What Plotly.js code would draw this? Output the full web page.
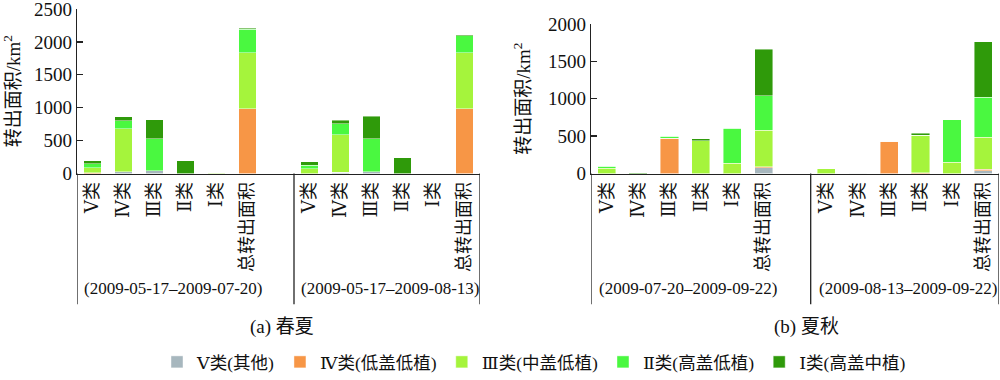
<!DOCTYPE html>
<html>
<head>
<meta charset="utf-8">
<script src="https://cdn.plot.ly/plotly-3.0.1.min.js"></script>
<style>html,body{margin:0;padding:0;background:#fff;}#chart{width:1000px;height:380px;}</style>
</head>
<body>
<div id="chart"></div>
<script>
// ---------- data ----------
const categories = ['Ⅴ类', 'Ⅳ类', 'Ⅲ类', 'Ⅱ类', 'Ⅰ类', '总转出面积'];
const periodsA = ['(2009-05-17–2009-07-20)', '(2009-05-17–2009-08-13)'];
const periodsB = ['(2009-07-20–2009-09-22)', '(2009-08-13–2009-09-22)'];
const classNames = ['Ⅴ类(其他)', 'Ⅳ类(低盖低植)', 'Ⅲ类(中盖低植)', 'Ⅱ类(高盖低植)', 'Ⅰ类(高盖中植)'];
const panelCaptions = ['(a) 春夏', '(b) 夏秋'];
const yTitle = '转出面积/km<sup>2</sup>';

// (a) spring-summer: 6 categories of period 1, then 6 of period 2
const springV   = [0, 30, 40, 0, 0, 0,      0, 20, 30, 0, 0, 0];
const springIV  = [15, 0, 0, 0, 0, 985,     0, 0, 0, 0, 0, 985];
const springIII = [76, 647, 0, 0, 5, 853,   71, 566, 0, 0, 0, 848];
const springII  = [55, 126, 485, 0, 5, 354, 55, 172, 500, 0, 0, 257];
const springI   = [46, 61, 293, 192, 0, 15, 56, 55, 344, 237, 0, 21];

// (b) summer-autumn
const autumnV   = [0, 0, 0, 0, 0, 75,       0, 3, 0, 0, 0, 40];
const autumnIV  = [0, 0, 470, 0, 0, 13,     0, 0, 434, 12, 0, 18];
const autumnIII = [71, 0, 0, 440, 137, 492, 66, 0, 0, 502, 150, 430];
const autumnII  = [27, 0, 27, 0, 466, 461,  0, 0, 0, 0, 570, 532];
const autumnI   = [0, 8, 0, 25, 0, 620,     0, 5, 0, 27, 0, 745];

// ---------- styling ----------
const colors = ['#a7b7be', '#f79646', '#a5f43c', '#4af840', '#2f9a0a'];
const FONT = '"Liberation Serif", "DejaVu Serif", "Noto Sans CJK SC", serif';
const AXC = '#222';

// slot positions: period p occupies slots p*7 .. p*7+5
const xpos = [];
periodsA.forEach((_, p) => categories.forEach((_, c) => xpos.push(p * 7 + c)));
const ticktext = [];
periodsA.forEach(() => categories.forEach(c => ticktext.push(c)));

const springSeries = [springV, springIV, springIII, springII, springI];
const autumnSeries = [autumnV, autumnIV, autumnIII, autumnII, autumnI];

const traces = [];
springSeries.forEach((vals, k) => {
  traces.push({
    type: 'bar', x: xpos, y: vals, xaxis: 'x', yaxis: 'y',
    name: classNames[k], legendgroup: 'g' + k, showlegend: true,
    width: 0.58, marker: {color: colors[k], line: {color: 'rgba(255,255,255,0.55)', width: 0.8}},
    hoverinfo: 'y+name'
  });
});
autumnSeries.forEach((vals, k) => {
  traces.push({
    type: 'bar', x: xpos, y: vals, xaxis: 'x2', yaxis: 'y2',
    name: classNames[k], legendgroup: 'g' + k, showlegend: false,
    width: 0.58, marker: {color: colors[k], line: {color: 'rgba(255,255,255,0.55)', width: 0.8}},
    hoverinfo: 'y+name'
  });
});

const W = 1000, H = 380;
const px = v => v / W;
const py = v => 1 - v / H;

const xCommon = {
  range: [-0.5, 12.5], tickvals: xpos, ticktext: ticktext, tickangle: -90,
  showline: true, linecolor: AXC, linewidth: 1.3, ticks: '', showgrid: false, zeroline: false,
  tickfont: {family: FONT, size: 18, color: '#111'}, fixedrange: true
};
const yCommon = {
  showline: true, linecolor: AXC, linewidth: 1.3, ticks: 'inside', ticklen: 6, tickcolor: AXC, tickwidth: 1.3,
  showgrid: false, zeroline: false, tickfont: {family: FONT, size: 19, color: '#111'},
  ticklabeloverflow: 'allow',
  title: {text: yTitle, font: {family: FONT, size: 19, color: '#111'}, standoff: 12}
};

const shapes = [];
const sepX = [-0.5, 6.5, 12.5];
['x', 'x2'].forEach(xr => {
  sepX.forEach(sx => {
    shapes.push({type: 'line', xref: xr, yref: 'paper', x0: sx, x1: sx, y0: py(305), y1: py(174),
      line: {color: AXC, width: 1.3}});
  });
});

const annotations = [];
const annFont = {family: FONT, size: 17, color: '#111'};
periodsA.forEach((t, p) => annotations.push({xref: 'x', yref: 'paper', x: p * 7 + 2.6, y: py(289),
  xanchor: 'center', yanchor: 'middle', text: t, showarrow: false, font: annFont}));
periodsB.forEach((t, p) => annotations.push({xref: 'x2', yref: 'paper', x: p * 7 + 2.6, y: py(289),
  xanchor: 'center', yanchor: 'middle', text: t, showarrow: false, font: annFont}));
annotations.push({xref: 'paper', yref: 'paper', x: px(282), y: py(328), xanchor: 'center', yanchor: 'middle',
  text: panelCaptions[0], showarrow: false, font: {family: FONT, size: 19, color: '#111'}});
annotations.push({xref: 'paper', yref: 'paper', x: px(806), y: py(328), xanchor: 'center', yanchor: 'middle',
  text: panelCaptions[1], showarrow: false, font: {family: FONT, size: 19, color: '#111'}});

const layout = {
  width: W, height: H, margin: {l: 0, r: 0, t: 0, b: 0},
  paper_bgcolor: '#fff', plot_bgcolor: 'rgba(0,0,0,0)',
  barmode: 'stack', showlegend: true,
  font: {family: FONT, size: 18, color: '#111'},
  xaxis: Object.assign({}, xCommon, {domain: [px(77), px(480)], anchor: 'y'}),
  xaxis2: Object.assign({}, xCommon, {domain: [px(591), px(999)], anchor: 'y2'}),
  yaxis: Object.assign({}, yCommon, {domain: [py(174), py(9)], range: [0, 2500], tickvals: [0, 500, 1000, 1500, 2000, 2500], anchor: 'x'}),
  yaxis2: Object.assign({}, yCommon, {domain: [py(174), py(24)], range: [0, 2000], tickvals: [0, 500, 1000, 1500, 2000], anchor: 'x2'}),
  legend: {orientation: 'h', x: px(534), xanchor: 'center', y: py(363), yanchor: 'middle',
    font: {family: FONT, size: 17.5, color: '#111'}, traceorder: 'normal', bgcolor: 'rgba(0,0,0,0)'},
  shapes: shapes, annotations: annotations
};

Plotly.newPlot('chart', traces, layout, {displayModeBar: false, staticPlot: true});
</script>
</body>
</html>
